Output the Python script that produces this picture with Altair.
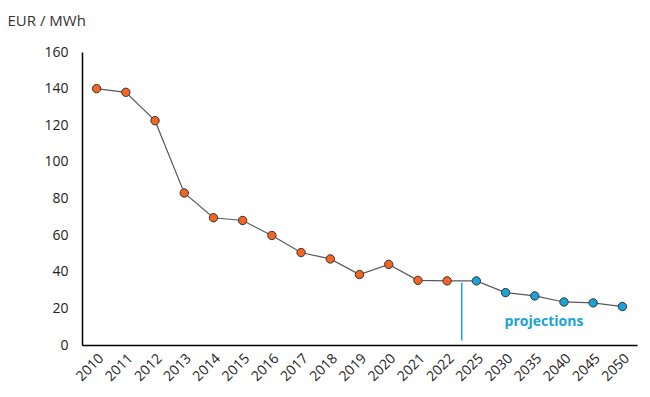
import altair as alt
import pandas as pd

years = ["2010", "2011", "2012", "2013", "2014", "2015", "2016", "2017", "2018", "2019",
         "2020", "2021", "2022", "2025", "2030", "2035", "2040", "2045", "2050"]
values = [140, 138, 122.5, 83, 69.5, 68, 59.8, 50.5, 47, 38.5,
          44, 35.3, 35, 35, 28.6, 26.8, 23.5, 23, 21]
kind = ["hist"] * 13 + ["proj"] * 6
y_ticks = [0, 20, 40, 60, 80, 100, 120, 140, 160]

df = pd.DataFrame({"year": years, "value": values, "kind": kind})

xscale = alt.Scale(domain=years, paddingInner=0, paddingOuter=0)
yscale = alt.Scale(domain=[0, 160])

xaxis = alt.Axis(title=None, labelAngle=-45, labelFontSize=14, labelColor="#222",
                 labelFont="Open Sans", ticks=False, domainColor="#000",
                 domainWidth=1.5, labelPadding=6, labelOverlap=False)
yaxis = alt.Axis(title="EUR / MWh", titleAngle=0, titleX=-75, titleY=-27,
                 titleAlign="left", titleBaseline="alphabetic",
                 titleFontSize=15, titleFontWeight="normal",
                 titleColor="#333", titleFont="Open Sans",
                 values=y_ticks, tickCount=9, labelOverlap=False,
                 labelFontSize=14, labelColor="#222", labelFont="Open Sans",
                 ticks=False, grid=False, domainColor="#000", domainWidth=1.5,
                 labelPadding=14)

def X(field, **kw):
    return alt.X(field, scale=xscale, sort=years, axis=xaxis, **kw)

def Y(field):
    return alt.Y(field, scale=yscale, axis=yaxis)

base = alt.Chart(df)

line = base.mark_line(color="#595959", strokeWidth=1.2).encode(
    x=X("year:N"), y=Y("value:Q"),
)

points = base.mark_point(filled=True, size=70, stroke="#333", strokeWidth=1, opacity=1).encode(
    x=X("year:N"), y=Y("value:Q"),
    fill=alt.Fill("kind:N", scale=alt.Scale(domain=["hist", "proj"],
                                            range=["#f26522", "#1aa3d6"]), legend=None),
)

rule_df = pd.DataFrame({"year": ["2022"], "y1": [34], "y2": [2.5]})
rule = alt.Chart(rule_df).mark_rule(color="#1aa3d6", strokeWidth=1.5).encode(
    x=X("year:N", bandPosition=1),
    y=Y("y1:Q"),
    y2="y2:Q",
)

text_df = pd.DataFrame({"year": ["2030"], "value": [12.5], "label": ["projections"]})
text = alt.Chart(text_df).mark_text(color="#1aa3d6", fontSize=14, fontWeight="bold",
                                    font="Open Sans", align="left", dx=-1).encode(
    x=X("year:N"), y=Y("value:Q"),
    text="label:N",
)

chart = (line + points + rule + text).properties(
    width=555, height=293,
    autosize=alt.AutoSizeParams(type="none"),
    padding={"left": 74, "top": 44, "right": 5, "bottom": 45},
).configure_view(stroke=None)

chart.save("out.html", embed_options={"renderer": "svg", "actions": False})
